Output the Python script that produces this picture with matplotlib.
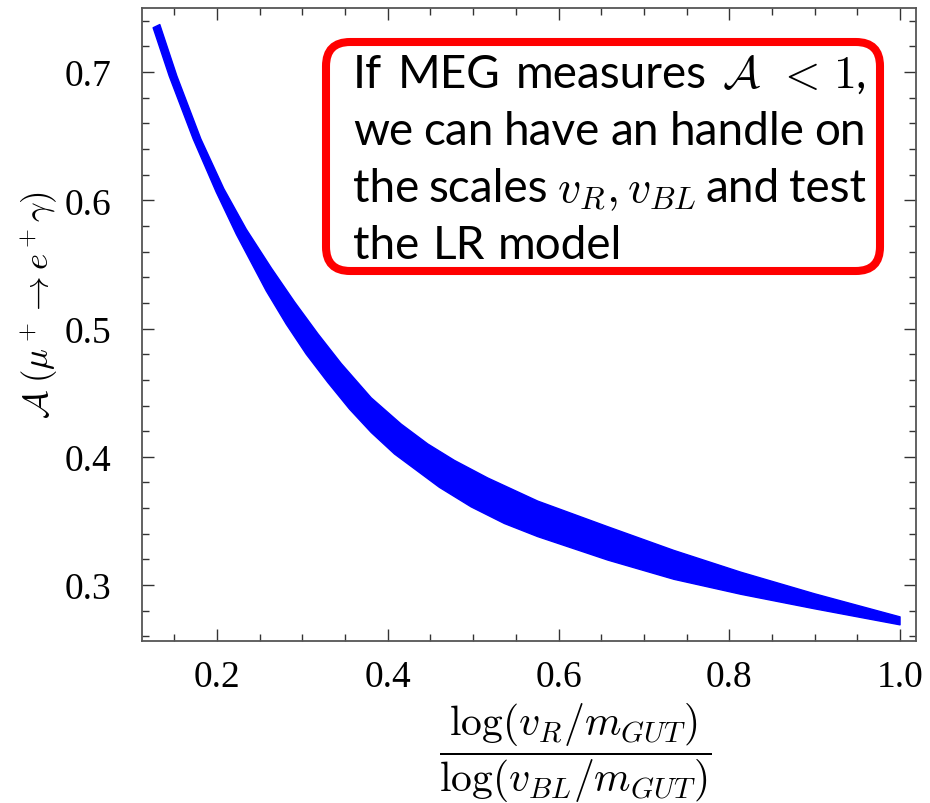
import matplotlib
matplotlib.use("Agg")
import matplotlib.pyplot as plt
from matplotlib.patches import FancyBboxPatch
from matplotlib.ticker import MultipleLocator, FixedLocator, FixedFormatter

# Band of allowed asymmetry values: upper (right) and lower (left) boundaries
x_upper = [0.1330, 0.1530, 0.1811, 0.2080, 0.2343, 0.2636, 0.2909, 0.3182,
           0.3455, 0.3806, 0.4157, 0.4469, 0.4781, 0.5171, 0.5756, 0.6577,
           0.7352, 0.8138, 0.9000, 1.0000]
y_upper = [0.7370, 0.6969, 0.6478, 0.6090, 0.5774, 0.5472, 0.5207, 0.4959,
           0.4727, 0.4460, 0.4255, 0.4100, 0.3972, 0.3835, 0.3655, 0.3455,
           0.3270, 0.3100, 0.2932, 0.2752]
x_lower = [0.1252, 0.1440, 0.1721, 0.1990, 0.2226, 0.2577, 0.2811, 0.3045,
           0.3299, 0.3552, 0.3806, 0.4079, 0.4605, 0.4976, 0.5366, 0.5756,
           0.6577, 0.7352, 0.8138, 0.9000, 1.0000]
y_lower = [0.7345, 0.6969, 0.6478, 0.6065, 0.5735, 0.5293, 0.5034, 0.4800,
           0.4579, 0.4372, 0.4190, 0.4022, 0.3762, 0.3610, 0.3480, 0.3378,
           0.3195, 0.3045, 0.2928, 0.2815, 0.2690]

x_ticks = [0.2, 0.4, 0.6, 0.8, 1.0]
x_tick_labels = ["0.2", "0.4", "0.6", "0.8", "1.0"]
y_ticks = [0.3, 0.4, 0.5, 0.6, 0.7]
y_tick_labels = ["0.3", "0.4", "0.5", "0.6", "0.7"]

x_label = r"$\dfrac{\log(v_R/m_{GUT})}{\log(v_{BL}/m_{GUT})}$"
y_label = r"$\mathcal{A}\;(\mu^+ \rightarrow e^+\gamma)$"

note_lines = [
    ["If", "MEG", "measures", r"$\mathcal{A}$", r"$<$", r"$1$,"],
    ["we", "can", "have", "an", "handle", "on"],
    ["the", "scales", r"$v_R, v_{BL}$", "and", "test"],
    ["the", "LR", "model"],
]

plt.rcParams["mathtext.fontset"] = "cm"

W, H = 930, 804
fig = plt.figure(figsize=(W / 100, H / 100), dpi=100)
fig.patch.set_facecolor("white")

ax_l, ax_r, ax_t, ax_b = 141.7, 916.0, 9.0, 642.0
ax = fig.add_axes([ax_l / W, 1 - ax_b / H, (ax_r - ax_l) / W, (ax_b - ax_t) / H])

poly_x = x_upper + x_lower[::-1]
poly_y = y_upper + y_lower[::-1]
ax.fill(poly_x, poly_y, facecolor="#0000ff", edgecolor="#0000ff", lw=1.0,
        joinstyle="round")

ax.set_xlim(0.1118, 1.0187)
ax.set_ylim(0.2564, 0.7499)

ax.xaxis.set_major_locator(FixedLocator(x_ticks))
ax.xaxis.set_major_formatter(FixedFormatter(x_tick_labels))
ax.yaxis.set_major_locator(FixedLocator(y_ticks))
ax.yaxis.set_major_formatter(FixedFormatter(y_tick_labels))
ax.xaxis.set_minor_locator(MultipleLocator(0.05))
ax.yaxis.set_minor_locator(MultipleLocator(0.02))

spine_col = "#555555"
for s in ax.spines.values():
    s.set_color(spine_col)
    s.set_linewidth(1.3)
ax.tick_params(which="both", direction="in", top=True, right=True,
               color="#333333", width=1.0)
ax.tick_params(which="major", length=8.5)
ax.tick_params(which="minor", length=5)
ax.tick_params(axis="x", which="major", pad=13)
ax.tick_params(axis="y", which="major", pad=22)
for lab in ax.get_xticklabels() + ax.get_yticklabels():
    lab.set_fontfamily("Liberation Serif")
    lab.set_fontsize(27)

fig.text(575 / W, 1 - 753 / H, x_label, fontsize=30, ha="center", va="center")
fig.text(40 / W, 1 - 305 / H, y_label, fontsize=25, rotation=90,
         ha="center", va="center")

# Rounded red note box
box_l, box_r, box_t, box_b = 326.0, 880.0, 43.0, 272.0
box = FancyBboxPatch((box_l / W, 1 - box_b / H), (box_r - box_l) / W,
                     (box_b - box_t) / H,
                     boxstyle="round,pad=0,rounding_size=0.026",
                     mutation_aspect=W / H, transform=fig.transFigure,
                     facecolor="white", edgecolor="#ff0000", linewidth=5.8)
fig.add_artist(box)

# Justified note text, laid out word by word
txt_l, txt_r = 353.0, 866.0
baselines = [88.0, 145.0, 202.0, 259.0]
note_font = dict(fontsize=33, family="Lato", color="black")
renderer = fig.canvas.get_renderer()
for li, (words, base) in enumerate(zip(note_lines, baselines)):
    arts = [fig.text(0, 1 - base / H, w, ha="left", va="baseline",
                     **note_font) for w in words]
    widths = [a.get_window_extent(renderer).width for a in arts]
    if li < len(note_lines) - 1:
        gap = (txt_r - txt_l - sum(widths)) / (len(words) - 1)
    else:
        gap = 13.0
    x = txt_l
    for a, w in zip(arts, widths):
        a.set_x(x / W)
        x += w + gap

fig.savefig("out.png", dpi=100, facecolor="white")
